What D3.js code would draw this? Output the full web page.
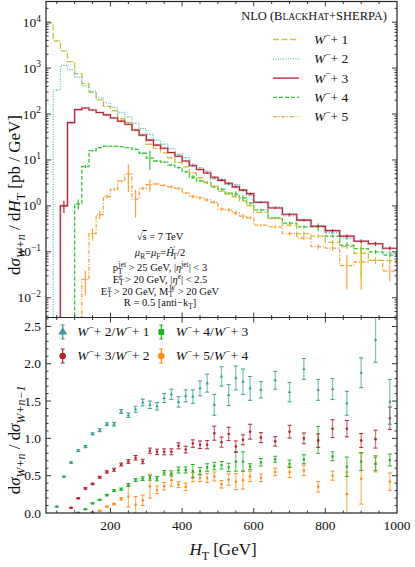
<!DOCTYPE html>
<html>
<head>
<meta charset="utf-8">
<script src="https://cdn.jsdelivr.net/npm/d3@7"></script>
<style>
    body { margin: 0; background: #fff; }
    text { font-family: "Liberation Serif", "DejaVu Serif", serif; fill: #111; }
</style>
</head>
<body>
<svg id="chart" width="415" height="567"></svg>
<script>
// bin edges in H_T [GeV]
const binEdges = [20,40,60,80,100,120,140,160,180,200,220,240,260,280,300,320,340,360,380,400,
    420,440,460,480,500,520,540,560,580,600,640,680,720,760,800,840,880,920,960,1000];

// d sigma / d H_T [pb/GeV], one value per bin
const w1 = [9500,3900,2360,1380,760,460,295,203,147,118,79,66,44,34,22,17.9,14.3,11.1,8.9,7.1,
    5.2,4.1,3.3,2.7,2.1,1.8,1.6,1.28,1.02,0.72,0.53,0.38,0.25,0.22,0.16,0.13,0.093,0.065,0.064];
const w2 = [null,330,1150,930,635,410,313,225,175,141,108,87,63,48,36,27,22,17.7,13.3,11.2,
    8.1,6.8,5.7,3.9,3.8,2.9,2.9,2.25,1.7,1.19,0.94,0.61,0.49,0.37,0.26,0.195,0.175,0.15,0.095];
const w3 = [null,null,1.0,65,125,135,122,108,96,82,70,60,45,35,27,21,18,14.5,12,9.5,
    7.5,6.2,5.2,4.2,3.6,3.1,2.6,2.2,1.85,1.2,0.9,0.66,0.49,0.36,0.29,0.22,0.17,0.15,0.12];
const w4 = [null,null,null,null,1.1,7.2,16,18.5,20,20,19.5,18.5,17,14,11,9.5,9,7.7,6.8,5.5,
    4.2,3.5,3.2,2.6,2.3,1.9,1.8,1.5,1.15,0.82,0.55,0.42,0.35,0.35,0.22,0.14,0.117,0.1,0.085];
const w5 = [null,null,null,null,null,0.025,0.25,0.65,1.6,2.3,3.5,5.0,1.4,2.4,2.9,3.0,2.8,2.6,2.4,1.9,
    1.6,1.5,1.35,1.2,0.85,0.82,0.7,0.6,0.55,0.38,0.35,0.25,0.2,0.13,0.12,0.05,0.06,0.065,0.038];

// relative statistical errors
const e1 = [0.01,0.01,0.01,0.01,0.01,0.01,0.01,0.01,0.01,0.01,0.01,0.02,0.02,0.02,0.02,0.02,0.02,0.03,0.03,0.03,
    0.03,0.03,0.04,0.04,0.04,0.05,0.05,0.05,0.06,0.05,0.06,0.08,0.1,0.1,0.12,0.12,0.7,0.15,0.15];
const e2 = [0,0.03,0.01,0.01,0.01,0.01,0.01,0.01,0.01,0.01,0.01,0.02,0.02,0.02,0.02,0.02,0.02,0.02,0.03,0.03,
    0.03,0.03,0.03,0.04,0.04,0.04,0.04,0.05,0.05,0.04,0.04,0.05,0.05,0.06,0.06,0.07,0.08,0.08,0.1];
const e3 = [0,0,0.3,0.03,0.02,0.02,0.02,0.02,0.02,0.02,0.02,0.02,0.02,0.02,0.03,0.03,0.03,0.03,0.03,0.03,
    0.04,0.04,0.04,0.04,0.04,0.05,0.05,0.05,0.05,0.04,0.05,0.05,0.06,0.06,0.07,0.08,0.08,0.1,0.1];
const e4 = [0,0,0,0,0.25,0.08,0.04,0.03,0.03,0.03,0.03,0.03,0.04,0.05,0.45,0.05,0.05,0.05,0.05,0.06,
    0.1,0.06,0.06,0.06,0.06,0.06,0.15,0.15,0.06,0.06,0.06,0.07,0.08,0.2,0.08,0.15,0.12,0.1,0.1];
const e5 = [0,0,0,0,0,0.55,0.3,0.2,0.1,0.08,0.06,0.6,0.6,0.08,0.3,0.06,0.06,0.08,0.06,0.06,
    0.08,0.08,0.08,0.08,0.1,0.1,0.12,0.12,0.08,0.08,0.08,0.1,0.1,0.12,0.12,0.7,0.75,0.15,0.4];

// ratios, one per bin from [40,60] on
const r21 = [0.085,0.487,0.675,0.835,0.89,1.06,1.11,1.19,1.19,1.36,1.31,1.39,1.48,1.45,1.43,1.54,1.59,1.49,1.57,1.56,
    1.67,1.74,1.45,1.83,1.58,1.81,1.76,1.67,1.65,1.78,1.62,1.93,1.65,1.66,1.47,1.88,2.32,1.49];
const re21 = [0.008,0.008,0.01,0.012,0.015,0.015,0.02,0.02,0.025,0.027,0.03,0.04,0.045,0.05,0.05,0.06,0.07,0.07,0.08,0.09,
    0.1,0.12,0.14,0.13,0.14,0.16,0.17,0.16,0.11,0.12,0.13,0.14,0.14,0.14,0.16,0.2,0.3,0.3];
const r32 = [null,null,0.07,0.197,0.33,0.39,0.48,0.55,0.58,0.65,0.69,0.74,0.69,0.835,0.82,0.82,0.82,0.90,0.85,0.93,
    0.915,0.915,1.07,0.95,1.06,0.89,0.98,1.09,1.01,0.96,1.09,1.00,0.97,1.13,1.13,0.97,0.99,1.27];
const re32 = [null,null,0.005,0.008,0.01,0.01,0.012,0.015,0.02,0.02,0.025,0.03,0.03,0.035,0.035,0.04,0.04,0.04,0.045,0.05,
    0.05,0.055,0.094,0.067,0.09,0.076,0.067,0.1,0.067,0.063,0.085,0.072,0.09,0.12,0.11,0.094,0.12,0.15];
const r43 = [null,null,null,0.005,0.05,0.13,0.176,0.24,0.30,0.32,0.375,0.44,0.46,0.47,0.46,0.54,0.53,0.576,0.576,0.56,
    0.56,0.61,0.63,0.64,0.61,0.69,0.69,0.62,0.68,0.72,0.66,0.72,0.98,0.76,0.62,0.69,0.66,0.71];
const re43 = [null,null,null,0.003,0.005,0.007,0.008,0.01,0.012,0.015,0.02,0.02,0.025,0.03,0.03,0.03,0.035,0.04,0.04,0.09,
    0.05,0.05,0.05,0.05,0.056,0.13,0.13,0.04,0.05,0.04,0.05,0.06,0.18,0.06,0.13,0.12,0.09,0.08];
const r54 = [null,null,null,null,null,0.01,0.03,0.085,0.12,0.19,0.22,0.11,0.17,0.36,0.31,0.36,0.44,0.38,0.35,0.48,
    0.47,0.47,0.49,0.385,0.45,0.42,0.44,0.49,0.47,0.55,0.55,0.57,0.35,0.50,0.25,0.46,0.66,0.42];
const re54 = [null,null,null,null,null,0.003,0.005,0.008,0.01,0.015,0.14,0.11,0.07,0.16,0.05,0.05,0.08,0.04,0.05,0.06,
    0.05,0.06,0.06,0.05,0.076,0.107,0.12,0.07,0.05,0.05,0.076,0.07,0.07,0.06,0.3,0.34,0.11,0.116];

const xTickLabels = [200, 400, 600, 800, 1000];
const decades = [-2, -1, 0, 1, 2, 3, 4];
const ratioTickLabels = ["0.0", "0.5", "1.0", "1.5", "2.0", "2.5"];

const svg = d3.select("#chart");
const pLeft = 46, pRight = 397, pTop = 1.5, pMid = 317.5, pBottom = 513;

const x = d3.scaleLinear().domain([20, 1000]).range([pLeft, pRight]);
const yTop = d3.scaleLog().domain([Math.pow(10, -2.43), Math.pow(10, 4.45)]).range([pMid, pTop]);
const yBot = d3.scaleLinear().domain([0, 2.62]).range([pBottom, pMid]);

const defs = svg.append("defs");
defs.append("clipPath").attr("id", "clipTop").append("rect")
    .attr("x", pLeft).attr("y", pTop).attr("width", pRight - pLeft).attr("height", pMid - pTop);
defs.append("clipPath").attr("id", "clipBot").append("rect")
    .attr("x", pLeft).attr("y", pMid).attr("width", pRight - pLeft).attr("height", pBottom - pMid);

// rich text helper: parts = [text, style, dx]
function rich(sel, parts, size) {
    let off = 0;
    parts.forEach(([s, t, dx]) => {
        let target = 0, fs = size;
        if (t.includes("sub")) { target = size * 0.28; fs = size * 0.7; }
        if (t.includes("sup")) { target = -size * 0.38; fs = size * 0.7; }
        const ts = sel.append("tspan").attr("dy", target - off).attr("font-size", fs)
            .attr("font-style", t.includes("i") ? "italic" : "normal").text(s);
        if (dx) ts.attr("dx", dx);
        if (t.includes("over")) ts.attr("text-decoration", "overline");
        off = target;
    });
    return sel;
}

// ---------- top panel: histograms ----------
const series = [
    { vals: w5, err: e5, color: "#ffa040", dash: "4,1.6,1.2,1.6" },
    { vals: w4, err: e4, color: "#3cc43c", dash: "4,2" },
    { vals: w1, err: e1, color: "#c9c240", dash: "6,2.5" },
    { vals: w2, err: e2, color: "#66bbb5", dash: "1,1.5" },
    { vals: w3, err: e3, color: "#b51f33", dash: null }
];

const gTop = svg.append("g").attr("clip-path", "url(#clipTop)");
const line = d3.line();

series.forEach(s => {
    const pts = [];
    let started = false;
    s.vals.forEach((v, i) => {
        if (v == null) return;
        const x0 = x(binEdges[i]), x1 = x(binEdges[i + 1]);
        if (!started) { if (i > 0) pts.push([x0, pMid + 5]); started = true; }
        pts.push([x0, yTop(v)], [x1, yTop(v)]);
    });
    if (!s.dash) {
        gTop.append("path").attr("d", line(pts)).attr("fill", "none")
            .attr("stroke", s.color).attr("stroke-opacity", 0.2).attr("stroke-width", 2.6);
    }
    gTop.append("path").attr("d", line(pts)).attr("fill", "none")
        .attr("stroke", s.color).attr("stroke-width", s.dash ? 1.3 : 1.1)
        .attr("stroke-dasharray", s.dash);
    // error bars at bin centres
    s.vals.forEach((v, i) => {
        if (v == null) return;
        const xc = x((binEdges[i] + binEdges[i + 1]) / 2);
        const lo = Math.max(v * (1 - s.err[i]), 1e-4), hi = v * (1 + s.err[i]);
        gTop.append("line").attr("x1", xc).attr("x2", xc)
            .attr("y1", yTop(lo)).attr("y2", yTop(hi))
            .attr("stroke", s.color).attr("stroke-width", 1.2);
    });
});

// ---------- bottom panel: ratios ----------
const centers = binEdges.slice(1, -1).map((e, i) => (e + binEdges[i + 2]) / 2);
const ratios = [
    { vals: r54, err: re54, color: "#ff8d1a", shape: d3.symbolCircle },
    { vals: r43, err: re43, color: "#22b022", shape: d3.symbolSquare },
    { vals: r32, err: re32, color: "#b3202f", shape: d3.symbolCircle },
    { vals: r21, err: re21, color: "#3a9c96", shape: d3.symbolTriangle }
];
const gBot = svg.append("g").attr("clip-path", "url(#clipBot)");
ratios.forEach(r => {
    r.vals.forEach((v, i) => {
        if (v == null) return;
        const xc = x(centers[i]);
        const y0 = yBot(v - r.err[i]), y1 = yBot(v + r.err[i]);
        const g = gBot.append("g").attr("stroke", r.color);
        g.append("line").attr("x1", xc).attr("x2", xc).attr("y1", y0).attr("y2", y1)
            .attr("stroke-width", 1.3).attr("stroke-opacity", 0.6);
        [y0, y1].forEach(yy => g.append("line").attr("x1", xc - 2).attr("x2", xc + 2)
            .attr("y1", yy).attr("y2", yy).attr("stroke-width", 1));
        gBot.append("path").attr("d", d3.symbol(r.shape, 5)())
            .attr("transform", `translate(${xc},${yBot(v)})`).attr("fill", r.color);
    });
});

// ---------- frames and ticks ----------
const axes = svg.append("g").attr("stroke", "#222").attr("fill", "none");
axes.append("rect").attr("x", pLeft).attr("y", pTop).attr("width", pRight - pLeft).attr("height", pBottom - pTop)
    .attr("stroke-width", 1.2);
axes.append("line").attr("x1", pLeft).attr("x2", pRight).attr("y1", pMid).attr("y2", pMid).attr("stroke-width", 1.2);

function xTicks(yy, dir) {
    d3.range(50, 1000, 50).forEach(v => {
        const len = v % 200 === 0 ? 5 : 2.5;
        axes.append("line").attr("x1", x(v)).attr("x2", x(v))
            .attr("y1", yy).attr("y2", yy + dir * len).attr("stroke-width", 0.9);
    });
}
xTicks(pTop, 1); xTicks(pMid, -1); xTicks(pMid, 1); xTicks(pBottom, -1);

function yTick(yy, len) {
    axes.append("line").attr("x1", pLeft).attr("x2", pLeft + len).attr("y1", yy).attr("y2", yy).attr("stroke-width", 0.9);
    axes.append("line").attr("x1", pRight).attr("x2", pRight - len).attr("y1", yy).attr("y2", yy).attr("stroke-width", 0.9);
}
d3.range(-3, 5).forEach(d => {
    d3.range(1, 10).forEach(m => {
        const v = m * Math.pow(10, d);
        const yy = yTop(v);
        if (yy > pTop + 1 && yy < pMid - 1) yTick(yy, m === 1 ? 5 : 2.5);
    });
});
d3.range(1, 27).forEach(k => {
    const yy = yBot(k / 10);
    if (yy > pMid + 1) yTick(yy, k % 5 === 0 ? 5 : 2.5);
});

// tick labels
xTickLabels.forEach(v => {
    svg.append("text").attr("x", x(v)).attr("y", 530).attr("text-anchor", "middle")
        .attr("font-size", 13.5).text(v);
});
decades.forEach(d => {
    const t = svg.append("text").attr("x", 41).attr("y", yTop(Math.pow(10, d)) + 4.5)
        .attr("text-anchor", "end").attr("font-size", 13.5);
    rich(t, [["10", "n"], [String(d).replace("-", "\u2212"), "sup"]], 13.5);
});
ratioTickLabels.forEach(s => {
    svg.append("text").attr("x", 41).attr("y", yBot(+s) + 4.5).attr("text-anchor", "end")
        .attr("font-size", 13.5).text(s);
});

// axis titles
rich(svg.append("text").attr("transform", "translate(20,195) rotate(-90)").attr("text-anchor", "middle"),
    [["d", "n"], ["\u03c3", "i"], ["W+n", "subi"], [" / d", "n"], ["H", "i"], ["T", "sub"], [" [pb / GeV]", "n"]], 17);
rich(svg.append("text").attr("transform", "translate(20,440) rotate(-90)").attr("text-anchor", "middle"),
    [["d", "n"], ["\u03c3", "i"], ["W+n", "subi"], [" / d", "n"], ["\u03c3", "i"], ["W+n\u22121", "subi"]], 17);
rich(svg.append("text").attr("x", 223).attr("y", 555).attr("text-anchor", "middle"),
    [["H", "i"], ["T", "sub"], ["  [GeV]", "n"]], 17);

// ---------- top legend ----------
const head = svg.append("text").attr("x", 387).attr("y", 19.5).attr("text-anchor", "end").attr("font-size", 12.5);
[["NLO (B", 12.5], ["LACK", 9.5], ["H", 12.5], ["AT", 9.5], ["+SHERPA)", 12.5]].forEach(([s, f]) =>
    head.append("tspan").attr("font-size", f).text(s));

const legendOrder = [
    { color: "#c9c240", dash: "6,2.5", n: "1" },
    { color: "#66bbb5", dash: "1,1.5", n: "2" },
    { color: "#b51f33", dash: null, n: "3" },
    { color: "#3cc43c", dash: "4,2", n: "4" },
    { color: "#ffa040", dash: "4,1.6,1.2,1.6", n: "5" }
];
legendOrder.forEach((l, i) => {
    const yy = 39.5 + i * 19.3;
    svg.append("line").attr("x1", 273).attr("x2", 299).attr("y1", yy).attr("y2", yy)
        .attr("stroke", l.color).attr("stroke-width", 1.3).attr("stroke-dasharray", l.dash);
    rich(svg.append("text").attr("x", 314).attr("y", yy + 4.5),
        [["W", "i"], ["\u2212", "sup"], ["+ " + l.n, "n"]], 13.5);
});

// ---------- ratio legend ----------
const ratioLegend = [
    { color: "#3a9c96", shape: d3.symbolTriangle, a: "2", b: "1", px: 62.7, py: 336 },
    { color: "#b3202f", shape: d3.symbolCircle, a: "3", b: "2", px: 62.7, py: 360 },
    { color: "#22b022", shape: d3.symbolSquare, a: "4", b: "3", px: 161.3, py: 336 },
    { color: "#ff8d1a", shape: d3.symbolCircle, a: "5", b: "4", px: 161.3, py: 360 }
];
ratioLegend.forEach(l => {
    const cy = l.py - 4;
    const g = svg.append("g").attr("stroke", l.color);
    g.append("line").attr("x1", l.px).attr("x2", l.px).attr("y1", cy - 7).attr("y2", cy + 7).attr("stroke-width", 1.2);
    [cy - 7, cy + 7].forEach(yy => g.append("line").attr("x1", l.px - 2).attr("x2", l.px + 2)
        .attr("y1", yy).attr("y2", yy));
    svg.append("path").attr("d", d3.symbol(l.shape, 34)()).attr("transform", `translate(${l.px},${cy})`)
        .attr("fill", l.color);
    rich(svg.append("text").attr("x", l.px + 14.5).attr("y", l.py),
        [["W", "i"], ["\u2212", "sup"], ["+ " + l.a + "/", "n"], ["W", "i"], ["\u2212", "sup"], ["+ " + l.b, "n"]], 13.5);
});

// ---------- cuts annotation ----------
const cx = 160, fsz = 10.5;
const note = (yy, parts) => rich(svg.append("text").attr("x", cx).attr("y", yy).attr("text-anchor", "middle"), parts, fsz);
note(240, [["\u221a", "n"], ["s", "over"], [" = 7 TeV", "n"]]);
note(256, [["\u03bc", "i"], ["R", "sub"], ["=", "n"], ["\u03bc", "i"], ["F", "sub"], ["=", "n"], ["\u0124", "i"], ["\u2032", "sup"], ["T", "sub", -3], ["/2", "n"]]);
note(271, [["p", "n"], ["T", "sub"], ["jet", "sup", -4], [" > 25 GeV, |", "n"], ["\u03b7", "i"], ["jet", "sup"], ["| < 3", "n"]]);
note(282.5, [["E", "n"], ["T", "sub"], ["e", "sup", -4], [" > 20 GeV, |", "n"], ["\u03b7", "i"], ["e", "sup"], ["| < 2.5", "n"]]);
note(294.5, [["E", "n"], ["T", "sub"], ["\u03bd", "supi", -4], [" > 20 GeV, M", "n"], ["T", "sub"], ["W", "supi", -4], [" > 20 GeV", "n"]]);
note(306, [["R = 0.5 [anti\u2212k", "n"], ["T", "sub"], ["]", "n"]]);
</script>
</body>
</html>
